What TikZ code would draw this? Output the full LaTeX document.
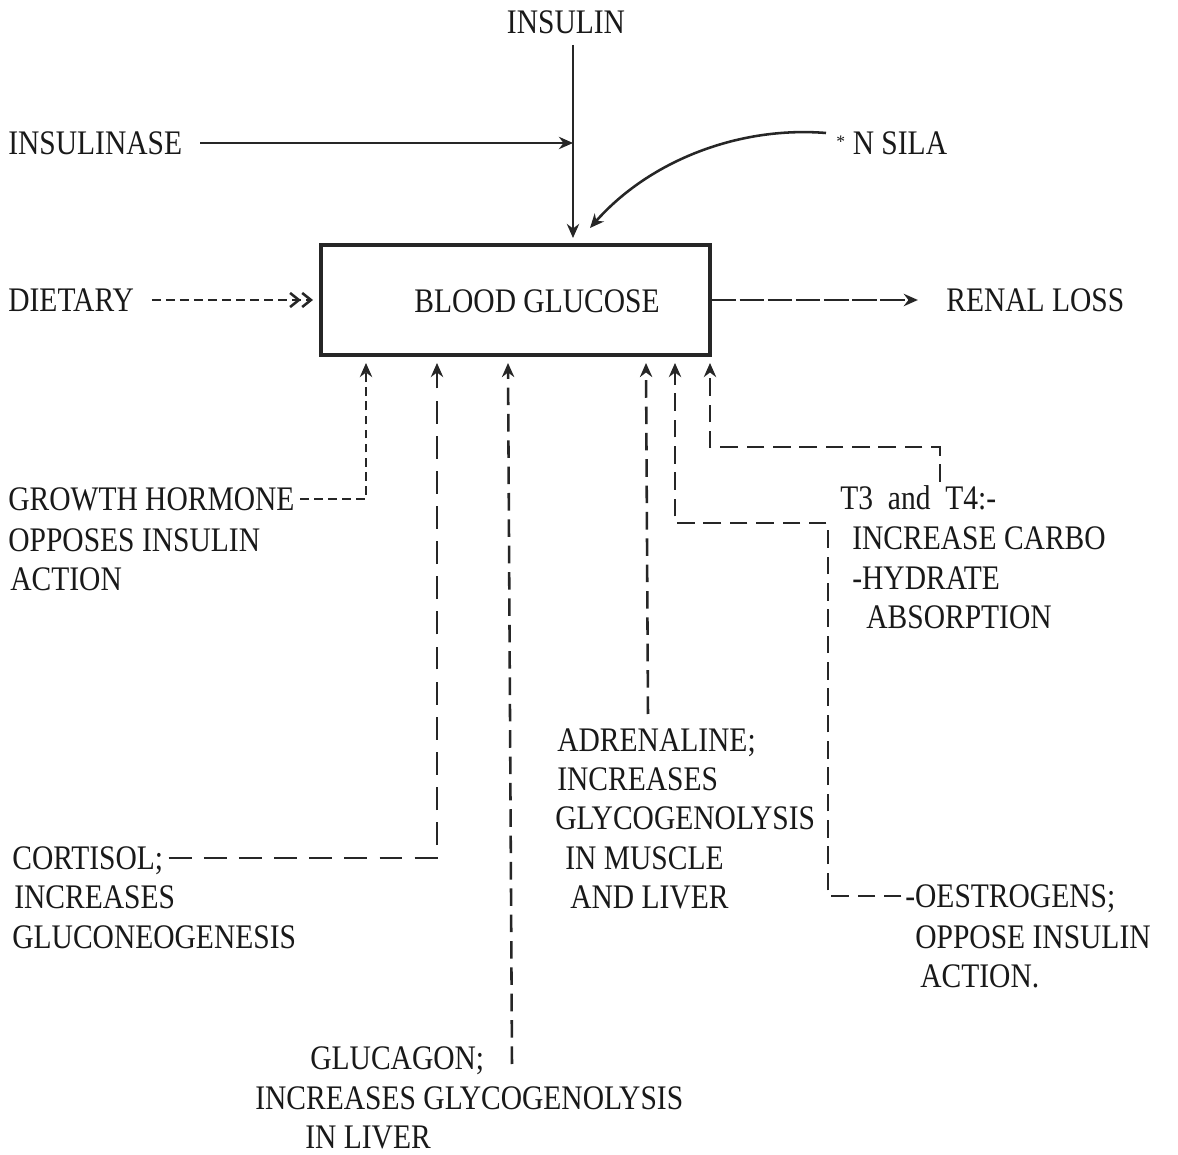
\documentclass[tikz,border=0pt]{standalone}
\usepackage{fontspec}
\setmainfont{Liberation Serif}
\usetikzlibrary{arrows.meta}
\newcommand\tx[1]{\scalebox{0.96}[1.12]{#1}}
\begin{document}
\begin{tikzpicture}[x=0.02cm,y=-0.02cm,
  lbl/.style={font=\fontsize{17.5}{20}\selectfont, inner sep=0pt, text height=13pt, text depth=0pt, anchor=west, text=black!90},
  ln/.style={line width=1.45pt, draw=black!85},
  tip/.style={-{Stealth[length=8pt,width=7pt]}},
  vdash/.style={dash pattern=on 10pt off 5pt},
  hdash/.style={dash pattern=on 13pt off 7pt},
  sdash/.style={dash pattern=on 5pt off 3pt},
  ldash/.style={dash pattern=on 14pt off 2pt}
]
\useasboundingbox[fill=white] (0,0) rectangle (1178,1155);

% central box
\node (box) [draw=black!85, line width=1.8pt, minimum width=7.78cm, minimum height=2.2cm, inner sep=0pt] at (515.5,300) {};
\node (bg) [lbl, anchor=center] at (537,301) {\tx{BLOOD GLUCOSE}};

% top inputs
\node (ins) [lbl, anchor=center] at (566,22) {\tx{INSULIN}};
\node (inase) [lbl] at (8,143) {\tx{INSULINASE}};
\node (nsila) [lbl] at (836,143) {{\fontsize{10}{10}\selectfont\raisebox{4pt}{*}}\ \tx{N SILA}};
\coordinate (insS) at (573,45);
\coordinate (insE) at (573,238);
\coordinate (nsS) at (826,133);
\coordinate (nsE) at (590,228);
\draw[ln,tip] (insS) -- (insE);
\draw[ln,tip] ([xshift=10pt]inase.east) -- (inase.east -| insS);
\draw[ln,tip] (nsS) .. controls (740,126) and (650,160) .. (nsE);

% dietary and renal loss
\node (diet) [lbl] at (8,300) {\tx{DIETARY}};
\node (renal) [lbl] at (946,300) {\tx{RENAL LOSS}};
\draw[ln,sdash,-{Straight Barb[length=5pt,width=8pt]Straight Barb[length=5pt,width=8pt]}] ([xshift=10pt]diet.east) -- (box.west -| 313,0);
\draw[ln,ldash,tip] (box.east) -- ([xshift=-16pt]renal.west);

% bottom labels
\node (gh) [lbl] at (8,499) {\tx{GROWTH HORMONE}};
\node [lbl] at (8,540) {\tx{OPPOSES INSULIN}};
\node [lbl] at (10,579) {\tx{ACTION}};

\node (t3) [lbl] at (840,498) {\tx{T3\ \ and\ \ T4:-}};
\node [lbl] at (852,538) {\tx{INCREASE CARBO}};
\node [lbl] at (852,578) {\tx{-HYDRATE}};
\node [lbl] at (866,617) {\tx{ABSORPTION}};

\node (adr) [lbl] at (557,740) {\tx{ADRENALINE;}};
\node [lbl] at (557,779) {\tx{INCREASES}};
\node [lbl] at (555,818) {\tx{GLYCOGENOLYSIS}};
\node [lbl] at (565,858) {\tx{IN MUSCLE}};
\node [lbl] at (570,897) {\tx{AND LIVER}};

\node (cort) [lbl] at (12,858) {\tx{CORTISOL;}};
\node [lbl] at (14,897) {\tx{INCREASES}};
\node [lbl] at (12,937) {\tx{GLUCONEOGENESIS}};

\node (oes) [lbl] at (905,896) {\tx{-OESTROGENS;}};
\node [lbl] at (915,937) {\tx{OPPOSE INSULIN}};
\node [lbl] at (920,976) {\tx{ACTION.}};

\node (glu) [lbl] at (310,1058) {\tx{GLUCAGON;}};
\node [lbl] at (255,1098) {\tx{INCREASES GLYCOGENOLYSIS}};
\node [lbl] at (305,1137) {\tx{IN LIVER}};

% arrow ends on the box bottom
\coordinate (ghin) at (366,363);
\coordinate (cortin) at (437,363);
\coordinate (gluin) at (508,363);
\coordinate (adrin) at (646,363);
\coordinate (oesin) at (675,363);
\coordinate (t3in) at (710,363);
\coordinate (gluS) at (512,1064);
\coordinate (adrS) at (648,714);
\coordinate (t3S) at (940,482);

\draw[ln,sdash,tip] ([xshift=3pt]gh.east) -| (ghin);
\draw[ln,hdash,tip] ([xshift=3pt]cort.east) -| (cortin);
\draw[ln,vdash,tip] (gluS) -- (gluin);
\draw[ln,vdash,tip] (adrS) -- (adrin);
\draw[ln,vdash,tip] (t3S) -- (940,447) -| (t3in);
\draw[ln,vdash,tip] ([xshift=-2pt]oes.west) -- (828,896) -- (828,523) -| (oesin);
\end{tikzpicture}
\end{document}
